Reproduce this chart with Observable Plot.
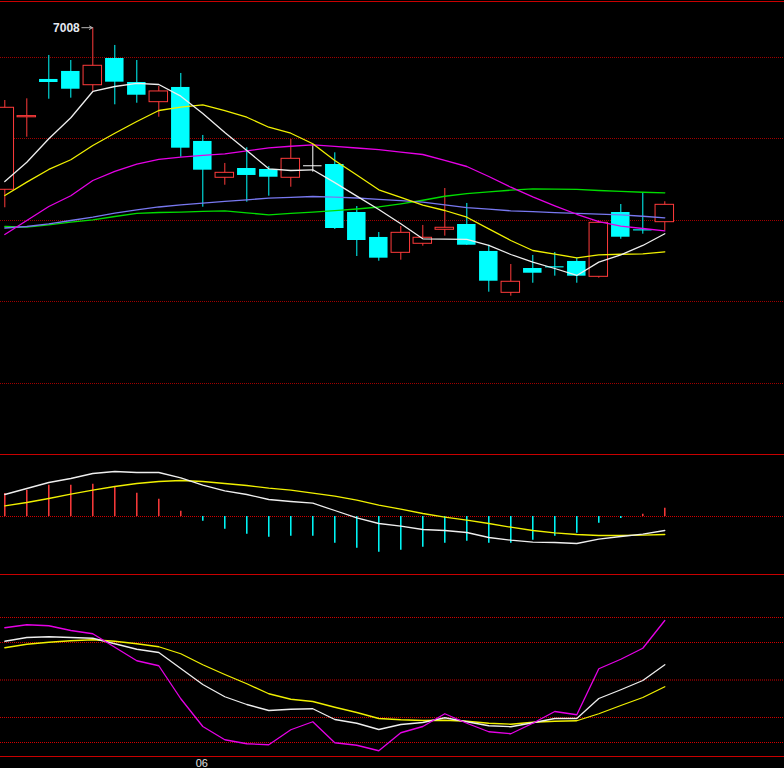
<!DOCTYPE html>
<html>
<head>
<meta charset="utf-8">
<script src="https://cdn.jsdelivr.net/npm/d3@7"></script>
<script src="https://cdn.jsdelivr.net/npm/@observablehq/plot@0.6"></script>
<style>
html, body { margin: 0; padding: 0; background: #000; }
#chart { position: relative; width: 784px; height: 768px; background: #000; overflow: hidden; }
</style>
</head>
<body>
<div id="chart"></div>
<script>
// ---------- DATA ----------
const openP  = [6805.4,6896.0,6943.3,6953.3,6936.1,6969.5,6939.5,6914.9,6933.3,6865.8,6820.4,6832.0,6830.8,6820.4,6835.4,6837.0,6777.0,6745.8,6726.6,6737.9,6755.4,6762.0,6728.3,6676.6,6707.0,6709.4,6715.8,6696.6,6777.0,6755.6,6764.9];
const highP  = [6917.0,6919.1,6973.3,6967.0,7008.0,6985.8,6967.0,6934.5,6950.8,6873.3,6838.3,6857.9,6834.5,6868.3,6862.0,6851.6,6784.5,6752.0,6759.5,6760.8,6807.0,6788.3,6736.1,6712.0,6723.3,6727.0,6719.9,6766.6,6787.0,6800.8,6790.4];
const lowP   = [6782.9,6871.1,6918.6,6919.9,6928.6,6911.6,6913.6,6896.1,6846.1,6783.6,6811.1,6789.9,6797.4,6808.6,6827.4,6755.8,6722.0,6716.1,6717.4,6734.9,6747.4,6735.8,6677.4,6672.4,6688.6,6697.4,6688.6,6694.9,6743.6,6749.9,6754.1];
const closeP = [6907.9,6897.5,6939.5,6931.1,6960.4,6939.9,6923.6,6928.3,6857.4,6829.9,6826.6,6823.3,6821.1,6844.1,6835.4,6757.0,6742.0,6719.9,6751.6,6745.4,6757.9,6736.1,6691.1,6690.4,6701.1,6709.0,6697.4,6764.1,6746.1,6755.2,6786.6];

const ma5  = [6815.8,6839.9,6869.1,6895.4,6928.3,6934.5,6938.3,6937.0,6922.4,6900.8,6877.0,6854.5,6831.6,6829.5,6830.4,6814.3,6797.5,6780.8,6762.9,6744.1,6743.8,6743.3,6735.8,6724.5,6714.9,6707.0,6698.3,6714.9,6724.1,6735.8,6750.4];
const ma10 = [6798.3,6814.9,6830.8,6842.9,6860.8,6876.1,6890.8,6904.5,6908.6,6911.6,6904.3,6896.1,6883.6,6876.1,6862.9,6842.0,6823.9,6805.4,6795.9,6786.1,6779.5,6771.1,6756.6,6742.0,6729.5,6725.1,6720.4,6724.1,6724.8,6725.4,6727.9];
const ma20 = [6749.5,6767.0,6784.5,6797.9,6817.0,6828.3,6837.6,6843.3,6846.1,6848.3,6850.4,6854.1,6857.9,6859.8,6861.6,6859.6,6857.6,6855.5,6852.5,6849.5,6842.3,6834.5,6822.0,6808.6,6796.6,6785.4,6774.8,6765.5,6759.9,6757.0,6754.1];
const ma30 = [6757.6,6759.5,6762.9,6767.0,6771.1,6776.1,6780.4,6783.9,6786.6,6788.8,6790.8,6792.9,6794.9,6796.0,6797.0,6796.1,6795.1,6793.5,6791.8,6790.0,6786.5,6783.1,6781.1,6779.1,6778.0,6776.9,6776.0,6775.0,6774.1,6772.3,6770.4];
const ma60 = [6759.5,6758.6,6761.6,6764.9,6767.9,6772.0,6775.8,6777.0,6777.4,6778.3,6779.1,6776.6,6774.1,6775.8,6777.4,6779.4,6781.4,6783.9,6787.8,6792.3,6797.3,6800.6,6802.8,6804.9,6806.6,6806.1,6805.8,6804.5,6803.3,6802.3,6801.6];

const dif  = [22,28,34,38,43,45,44,44,38.6,31.3,25.6,22,17,15,13.3,6,-1.4,-7,-9.7,-13,-14,-16,-21,-23.7,-25.7,-26,-27,-22.7,-20,-17.7,-14];
const dea  = [10.6,14,18,22.3,26.3,30,33,35,36,35,33,31,28.3,26.3,23.3,20.3,16.3,11.3,7.3,3,-0.7,-3.7,-7,-10.7,-14,-16.4,-18,-19,-19,-18.7,-18];
const macd = [23,26.3,31.3,31.3,32.3,29.6,23.3,17.3,5.3,-4.7,-12.7,-17.7,-20.7,-19.7,-19.7,-26.7,-31.7,-35.7,-33.7,-30.7,-26.7,-24.7,-26.7,-26.7,-23.7,-19.7,-16.7,-6.7,-2,2.3,8.3];

const kLine = [81,84,84.6,84,83.4,79,74.6,72,59.2,46.4,36.6,30.4,25.6,26.6,27,18.4,15.4,10.4,14.4,16,19.8,16.6,13.4,12.6,15.8,19.2,19.2,35.2,42.2,49.6,62.2];
const dLine = [75.8,78.6,80.2,81.4,82.2,81,79,76.6,71,62.2,54.4,47,39,34.6,32.8,28.2,24,19.2,18.2,17.6,17.8,17,15.4,14.6,16.2,17,17.4,23,29.6,36,44.6];
const jLine = [91.8,94.2,93.4,89.6,87,76.2,65.4,61.4,35,12.8,2.2,-1,-1.8,10.2,16.6,-0.2,-2.2,-6.6,7.8,12.8,23,15.4,8.6,7,15.4,24.8,22.2,59,66.6,75.4,97.6];

const priceGrid = [6970.75, 6869.5, 6767, 6665.75, 6563.25];
const kdjGrid = [100, 80, 50, 20, 0];
const dateTicks = [{i: 9, label: "06"}];

// ---------- SCALES / STYLE ----------
const X_DOMAIN = [-4.3 / 22, (784 - 4.3) / 22];
const PRICE_DOMAIN = [6474.5, 7040.75];
const MACD_DOMAIN = [-59, 61];
const KDJ_DOMAIN = [-11.2, 133.6];

const UP = "#ff3b3b", DOWN = "#00ffff", FLAT = "#ffffff";
const C_WHITE = "#eeeeee", C_YELLOW = "#f0f000", C_MAG = "#e600e6", C_BLUE = "#7878f0", C_GREEN = "#00dd00";
const SOLID = "#c80000", GRID_MAIN = "#a00000", GRID_LOW = "#d00000";
const HALF = 0.42;
const LW = 1.3;
const FONT = "'Liberation Sans', Arial, sans-serif";

const rows = openP.map((o, i) => ({
  i, open: o, high: highP[i], low: lowP[i], close: closeP[i],
  ma5: ma5[i], ma10: ma10[i], ma20: ma20[i], ma30: ma30[i], ma60: ma60[i],
  dif: dif[i], dea: dea[i], macd: macd[i],
  k: kLine[i], d: dLine[i], j: jLine[i]
}));
const colorOf = d => d.close > d.open ? UP : d.close < d.open ? DOWN : FLAT;
const maxRow = rows.reduce((a, b) => (b.high > a.high ? b : a));

const baseStyle = {background: "transparent", color: "#fff", fontFamily: FONT, overflow: "visible"};

const mainPlot = Plot.plot({
  width: 784, height: 455,
  marginTop: 1, marginBottom: 1, marginLeft: 0, marginRight: 0,
  x: {domain: X_DOMAIN, axis: null},
  y: {domain: PRICE_DOMAIN, axis: null},
  style: baseStyle,
  marks: [
    Plot.ruleY(priceGrid, {stroke: GRID_MAIN, strokeDasharray: "1,1"}),
    Plot.ruleY(PRICE_DOMAIN, {stroke: SOLID}),
    Plot.ruleX(rows, {x: "i", y1: "low", y2: "high", stroke: colorOf}),
    Plot.rect(rows, {
      x1: d => d.i - HALF, x2: d => d.i + HALF, y1: "open", y2: "close",
      fill: d => d.close < d.open ? DOWN : "#000",
      stroke: d => d.close > d.open ? UP : "none"
    }),
    Plot.ruleY(rows.filter(d => Math.abs(d.close - d.open) < 1), {
      y: "close", x1: d => d.i - HALF, x2: d => d.i + HALF, stroke: colorOf
    }),
    Plot.line(rows, {x: "i", y: "ma60", stroke: C_GREEN, strokeWidth: LW}),
    Plot.line(rows, {x: "i", y: "ma30", stroke: C_BLUE, strokeWidth: LW}),
    Plot.line(rows, {x: "i", y: "ma20", stroke: C_MAG, strokeWidth: LW}),
    Plot.line(rows, {x: "i", y: "ma10", stroke: C_YELLOW, strokeWidth: LW}),
    Plot.line(rows, {x: "i", y: "ma5", stroke: C_WHITE, strokeWidth: LW}),
    Plot.arrow([maxRow], {x1: d => d.i - 0.5, x2: d => d.i - 0.02, y1: "high", y2: "high", stroke: "#b8b8b8", strokeWidth: 1, headLength: 5}),
    Plot.text([maxRow], {x: "i", y: "high", text: d => String(Math.round(d.high)), textAnchor: "end", dx: -13, fill: "#e4e8f0", fontSize: 12, fontWeight: "bold"})
  ]
});

const macdPlot = Plot.plot({
  width: 784, height: 120,
  marginTop: 0, marginBottom: 0, marginLeft: 0, marginRight: 0,
  x: {domain: X_DOMAIN, axis: null},
  y: {domain: MACD_DOMAIN, axis: null},
  style: baseStyle,
  marks: [
    Plot.ruleY([0], {stroke: GRID_LOW, strokeDasharray: "1,1"}),
    Plot.ruleY([MACD_DOMAIN[0] + 1], {stroke: SOLID}),
    Plot.ruleX(rows, {x: "i", y1: 0, y2: "macd", stroke: d => d.macd >= 0 ? UP : DOWN, strokeWidth: 1.5}),
    Plot.line(rows, {x: "i", y: "dea", stroke: C_YELLOW, strokeWidth: LW}),
    Plot.line(rows, {x: "i", y: "dif", stroke: C_WHITE, strokeWidth: LW})
  ]
});

const kdjPlot = Plot.plot({
  width: 784, height: 193,
  marginTop: 0, marginBottom: 12, marginLeft: 0, marginRight: 0,
  x: {domain: X_DOMAIN, axis: null},
  y: {domain: KDJ_DOMAIN, axis: null},
  style: baseStyle,
  marks: [
    Plot.ruleY(kdjGrid, {stroke: GRID_LOW, strokeDasharray: "1,1"}),
    Plot.ruleY([KDJ_DOMAIN[0]], {stroke: SOLID}),
    Plot.line(rows, {x: "i", y: "d", stroke: C_YELLOW, strokeWidth: LW}),
    Plot.line(rows, {x: "i", y: "k", stroke: C_WHITE, strokeWidth: LW}),
    Plot.line(rows, {x: "i", y: "j", stroke: C_MAG, strokeWidth: LW}),
    Plot.text(dateTicks, {x: "i", text: "label", frameAnchor: "bottom", lineAnchor: "top", dy: 3, dx: -1, fill: "#e0e0e0", fontSize: 11})
  ]
});

const chart = document.getElementById("chart");
[[mainPlot, 0], [macdPlot, 455], [kdjPlot, 575]].forEach(([el, top]) => {
  el.style.position = "absolute";
  el.style.left = "0px";
  el.style.top = top + "px";
  el.style.maxWidth = "none";
  chart.appendChild(el);
});
</script>
</body>
</html>
